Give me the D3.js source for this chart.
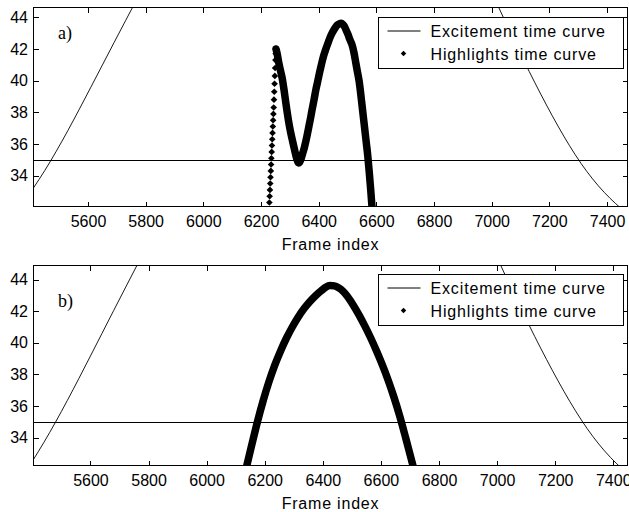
<!DOCTYPE html>
<html>
<head>
<meta charset="utf-8">
<script src="https://cdn.jsdelivr.net/npm/d3@7"></script>
<style>
  body { margin: 0; background: #fff; }
  svg text { font-family: "Liberation Sans", Arial, sans-serif; fill: #000; }
</style>
</head>
<body>
<div id="chart"></div>
<script>
// Excitement vs highlights time curves, two panels a) and b)

const xTicks = [5600, 5800, 6000, 6200, 6400, 6600, 6800, 7000, 7200, 7400];
const yTicks = [34, 36, 38, 40, 42, 44];
const threshold = 35;
const seriesNames = ["Excitement time curve", "Highlights time curve"];
const panelLabels = ["a)", "b)"];
const xTitle = "Frame index";

// axis limits
const xLimitsA = [5411, 7471];
const yLimitsA = [32.05, 44.62];
const xLimitsB = [5404, 7449];
const yLimitsB = [32.23, 44.89];

// panel a) excitement curve (null = part above the visible range)
const excitementFramesA = [5410, 5450, 5490, 5530, 5570, 5610, 5650, 5690, 5730, 5770, null,
  6990, 7030, 7070, 7110, 7150, 7190, 7230, 7270, 7310, 7350, 7390, 7430, 7470];
const excitementValuesA = [33.2, 34.32, 35.54, 36.84, 38.2, 39.59, 40.99, 42.39, 43.78, 45.16, null,
  46.0, 44.4, 42.84, 41.32, 39.86, 38.46, 37.13, 35.89, 34.77, 33.79, 32.95, 32.23, 31.61];

// panel a) highlights curve
const highlightFramesA = [6229, 6230, 6231, 6232, 6233, 6234, 6235, 6236, 6237, 6238, 6239, 6240,
  6241, 6242, 6243, 6244, 6245, 6246, 6247, 6248, 6249, 6250, 6251, 6252,
  6256, 6262, 6268, 6273, 6280, 6286, 6290, 6296, 6302, 6308, 6313, 6318, 6322, 6326, 6330,
  6334, 6338, 6342, 6346, 6350, 6354, 6360, 6366, 6372, 6377, 6384, 6390, 6396, 6400,
  6408, 6416, 6424, 6432, 6440, 6448, 6456, 6464, 6472, 6478, 6484, 6490, 6496, 6502, 6508,
  6515, 6522, 6529, 6535, 6540, 6545, 6550, 6555, 6560, 6565, 6570, 6575, 6580, 6585];
const highlightValuesA = [32.3, 32.7, 33.1, 33.5, 33.9, 34.3, 34.7, 35.1, 35.5, 35.9, 36.3, 36.7,
  37.1, 37.5, 37.9, 38.3, 38.8, 39.3, 39.8, 40.3, 40.8, 41.3, 41.7, 42.0,
  41.7, 41.1, 40.6, 40.2, 39.4, 38.6, 38.1, 37.4, 36.8, 36.3, 35.9, 35.5, 35.2, 34.95, 34.8,
  34.85, 35.0, 35.25, 35.5, 35.75, 36.05, 36.55, 37.1, 37.65, 38.15, 38.8, 39.4, 39.9, 40.25,
  40.9, 41.5, 41.95, 42.36, 42.75, 43.05, 43.3, 43.5, 43.6, 43.62, 43.55, 43.4, 43.15, 42.9, 42.6,
  42.3, 41.8, 41.1, 40.5, 40.0, 39.3, 38.5, 37.7, 36.9, 36.1, 35.3, 34.3, 33.2, 32.0];

// panel b) excitement curve
const excitementFramesB = [5400, 5440, 5480, 5520, 5560, 5600, 5640, 5680, 5720, 5760, 5800, null,
  6990, 7030, 7070, 7110, 7150, 7190, 7230, 7270, 7310, 7350, 7390, 7430, 7470];
const excitementValuesB = [32.5, 33.7, 34.98, 36.33, 37.73, 39.16, 40.6, 42.04, 43.47, 44.89, 46.3, null,
  45.8, 44.2, 42.64, 41.12, 39.66, 38.26, 36.93, 35.69, 34.57, 33.59, 32.75, 32.03, 31.41];

// panel b) highlights curve
const highlightFramesB = [6138, 6155, 6175, 6195, 6215, 6235, 6255, 6275, 6295, 6315, 6335, 6355,
  6375, 6395, 6410, 6425, 6440, 6455, 6470, 6485, 6505, 6525, 6545, 6565, 6585, 6605, 6625, 6645,
  6665, 6685, 6700, 6710];
const highlightValuesB = [32.2, 33.5, 35.0, 36.35, 37.55, 38.6, 39.5, 40.3, 41.0, 41.62, 42.15, 42.6,
  42.98, 43.3, 43.52, 43.62, 43.6, 43.47, 43.25, 42.93, 42.38, 41.75, 41.05, 40.3, 39.48, 38.6, 37.63, 36.55,
  35.35, 34.0, 32.95, 32.25];

const width = 629;
const height = 512;

const panels = [
  {label: panelLabels[0], labelX: 58, labelY: 38.5, left: 33.5, top: 7.5, right: 627.5, bottom: 206.5,
   xLimits: xLimitsA, yLimits: yLimitsA,
   exF: excitementFramesA, exV: excitementValuesA, hF: highlightFramesA, hV: highlightValuesA,
   titleY: 250, legendTop: 17.5},
  {label: panelLabels[1], labelX: 58, labelY: 306.5, left: 33.5, top: 265.5, right: 627.5, bottom: 465.5,
   xLimits: xLimitsB, yLimits: yLimitsB,
   exF: excitementFramesB, exV: excitementValuesB, hF: highlightFramesB, hV: highlightValuesB,
   titleY: 509, legendTop: 274.5}
];

const svg = d3.select("#chart")
  .append("svg")
  .attr("width", width)
  .attr("height", height)
  .style("background", "#fff");

const defs = svg.append("defs");
const marker = d3.symbol().type(d3.symbolSquare).size(22);
const legendMarker = d3.symbol().type(d3.symbolSquare).size(15);

panels.forEach((p, i) => {
  const x = d3.scaleLinear().domain(p.xLimits).range([p.left, p.right]);
  const y = d3.scaleLinear().domain(p.yLimits).range([p.bottom, p.top]);

  defs.append("clipPath").attr("id", `clip${i}`)
    .append("rect")
    .attr("x", p.left).attr("y", p.top)
    .attr("width", p.right - p.left).attr("height", p.bottom - p.top);

  const g = svg.append("g");
  const plot = g.append("g").attr("clip-path", `url(#clip${i})`);

  // excitement curve
  const ex = p.exF.map((f, k) => ({f: f, v: p.exV[k]}));
  const exLine = d3.line()
    .defined(d => d.f != null)
    .x(d => x(d.f))
    .y(d => y(d.v))
    .curve(d3.curveMonotoneX);
  plot.append("path")
    .datum(ex)
    .attr("d", exLine)
    .attr("fill", "none")
    .attr("stroke", "#000")
    .attr("stroke-width", 0.9);

  // threshold
  plot.append("line")
    .attr("x1", p.left).attr("x2", p.right)
    .attr("y1", Math.round(y(threshold)) + 0.5).attr("y2", Math.round(y(threshold)) + 0.5)
    .attr("stroke", "#000")
    .attr("stroke-width", 1);

  // highlights: a thick trail where the list is subsampled, markers at every point
  const hl = p.hF.map((f, k) => ({f: f, v: p.hV[k]}));
  const runs = [];
  let run = null;
  for (let k = 1; k < hl.length; k++) {
    if (hl[k].f - hl[k - 1].f > 1) {
      if (!run) { run = [hl[k - 1]]; runs.push(run); }
      run.push(hl[k]);
    } else {
      run = null;
    }
  }
  const hLine = d3.line().x(d => x(d.f)).y(d => y(d.v)).curve(d3.curveMonotoneX);
  plot.selectAll("path.trail")
    .data(runs)
    .join("path")
    .attr("class", "trail")
    .attr("d", hLine)
    .attr("fill", "none")
    .attr("stroke", "#000")
    .attr("stroke-width", 7.5)
    .attr("stroke-linejoin", "round")
    .attr("stroke-linecap", "round");

  plot.selectAll("path.mk")
    .data(hl)
    .join("path")
    .attr("class", "mk")
    .attr("d", marker)
    .attr("transform", d => `translate(${x(d.f)},${y(d.v)}) rotate(45)`)
    .attr("fill", "#000");

  // axes, ticks pointing inwards on all four sides
  const gx = g.append("g")
    .attr("transform", `translate(0,${p.bottom})`)
    .call(d3.axisBottom(x).tickValues(xTicks).tickSize(-5).tickPadding(9).tickFormat(d3.format("d")));
  const gxt = g.append("g")
    .attr("transform", `translate(0,${p.top})`)
    .call(d3.axisTop(x).tickValues(xTicks).tickSize(-5).tickFormat(""));
  const gy = g.append("g")
    .attr("transform", `translate(${p.left},0)`)
    .call(d3.axisLeft(y).tickValues(yTicks).tickSize(-5).tickPadding(5.5));
  const gyr = g.append("g")
    .attr("transform", `translate(${p.right},0)`)
    .call(d3.axisRight(y).tickValues(yTicks).tickSize(-5).tickFormat(""));

  [gx, gxt, gy, gyr].forEach(a => {
    a.select(".domain").remove();
    a.selectAll("line").attr("stroke", "#000").attr("shape-rendering", "crispEdges");
    a.selectAll("text")
      .attr("font-family", "'Liberation Sans', Arial, sans-serif")
      .attr("font-size", 16)
      .attr("fill", "#000");
  });

  g.append("rect")
    .attr("x", p.left).attr("y", p.top)
    .attr("width", p.right - p.left).attr("height", p.bottom - p.top)
    .attr("fill", "none")
    .attr("stroke", "#000")
    .attr("shape-rendering", "crispEdges");

  g.append("text")
    .attr("x", (p.left + p.right) / 2)
    .attr("y", p.titleY)
    .attr("text-anchor", "middle")
    .attr("font-size", 16)
    .attr("letter-spacing", 0.8)
    .text(xTitle);

  g.append("text")
    .attr("x", p.labelX)
    .attr("y", p.labelY)
    .attr("font-size", 18)
    .style("font-family", "'Liberation Serif', 'Times New Roman', serif")
    .text(p.label);

  // legend
  const lg = g.append("g").attr("transform", `translate(378.5,${p.legendTop})`);
  lg.append("rect")
    .attr("width", 245).attr("height", 51)
    .attr("fill", "#fff")
    .attr("stroke", "#000")
    .attr("shape-rendering", "crispEdges");
  lg.append("line")
    .attr("x1", 9).attr("x2", 42)
    .attr("y1", 13.5).attr("y2", 13.5)
    .attr("stroke", "#000");
  lg.append("path")
    .attr("d", legendMarker)
    .attr("transform", "translate(25,36) rotate(45)")
    .attr("fill", "#000");
  lg.selectAll("text.lt")
    .data(seriesNames)
    .join("text")
    .attr("class", "lt")
    .attr("x", 52)
    .attr("y", (d, k) => 19.5 + k * 22.5)
    .attr("font-size", 16)
    .attr("letter-spacing", 0.85)
    .text(d => d);
});
</script>
</body>
</html>
